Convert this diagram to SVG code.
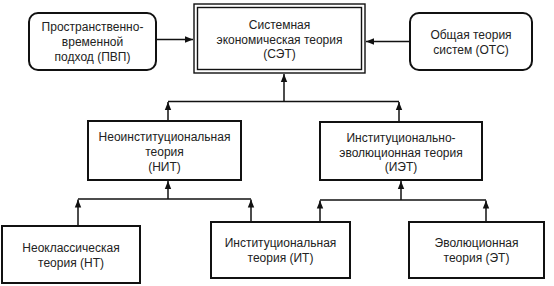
<svg xmlns="http://www.w3.org/2000/svg" width="554" height="286" viewBox="0 0 554 286">
<defs>
<marker id="ah" viewBox="0 0 8 8" refX="8" refY="4" markerWidth="8" markerHeight="8" markerUnits="userSpaceOnUse" orient="auto">
<path d="M0,0.8 L8,4 L0,7.2 Z" fill="#111"/>
</marker>
</defs>
<style>
.box{fill:#fff;stroke:#111;stroke-width:2}
.thin{fill:none;stroke:#111;stroke-width:1.4}
.ln{fill:none;stroke:#111;stroke-width:1.5}
.arr{fill:none;stroke:#111;stroke-width:1.5;marker-end:url(#ah)}
text{font-family:"Liberation Sans",Arial,sans-serif;font-size:12px;fill:#222;text-anchor:middle}
</style>
<rect width="554" height="286" fill="#fff"/>
<g id="connectors">
<line class="arr" x1="156" y1="39.5" x2="193" y2="39.5"/>
<line class="arr" x1="410" y1="41.5" x2="366" y2="41.5"/>
<line class="arr" x1="284" y1="101.5" x2="284" y2="74"/>
<polyline class="ln" points="168,101.5 399,101.5"/>
<line class="arr" x1="168" y1="120" x2="168" y2="102"/>
<line class="arr" x1="399" y1="122" x2="399" y2="102"/>
<line class="arr" x1="168" y1="199" x2="168" y2="181"/>
<polyline class="ln" points="78,199 251,199"/>
<line class="arr" x1="78" y1="226" x2="78" y2="199.5"/>
<line class="arr" x1="251" y1="222" x2="251" y2="199.5"/>
<line class="arr" x1="401" y1="200" x2="401" y2="181"/>
<polyline class="ln" points="320,200 486,200"/>
<line class="arr" x1="320" y1="222" x2="320" y2="200.5"/>
<line class="arr" x1="486" y1="222" x2="486" y2="200.5"/>
</g>
<g id="pvp">
<rect class="box" x="29" y="13" width="127" height="57" rx="9"/>
<text x="92.5" y="31">Пространственно-</text>
<text x="92.5" y="46">временной</text>
<text x="92.5" y="61">подход (ПВП)</text>
</g>
<g id="set">
<rect class="thin" x="194" y="4" width="171" height="69"/>
<rect class="thin" x="197.5" y="7.5" width="164" height="62"/>
<text x="279.5" y="29">Системная</text>
<text x="279.5" y="44">экономическая теория</text>
<text x="279.5" y="58">(СЭТ)</text>
</g>
<g id="ots">
<rect class="box" x="410" y="13" width="122" height="57" rx="9"/>
<text x="471" y="39">Общая теория</text>
<text x="471" y="54">систем (ОТС)</text>
</g>
<g id="nit">
<rect class="box" x="88" y="121" width="153" height="59"/>
<text x="164.5" y="141">Неоинституциональная</text>
<text x="164.5" y="156">теория</text>
<text x="164.5" y="171">(НИТ)</text>
</g>
<g id="iet">
<rect class="box" x="320" y="122" width="162" height="58"/>
<text x="401" y="142">Институционально-</text>
<text x="401" y="156.5">эволюционная теория</text>
<text x="401" y="171">(ИЭТ)</text>
</g>
<g id="nt">
<rect class="box" x="2" y="226" width="138" height="57"/>
<text x="71" y="251.5">Неоклассическая</text>
<text x="71" y="266.5">теория (НТ)</text>
</g>
<g id="it">
<rect class="box" x="211" y="222" width="139" height="56"/>
<text x="280.5" y="247">Институциональная</text>
<text x="280.5" y="262">теория (ИТ)</text>
</g>
<g id="et">
<rect class="box" x="409" y="222" width="135" height="56"/>
<text x="476.5" y="247">Эволюционная</text>
<text x="476.5" y="262">теория (ЭТ)</text>
</g>
</svg>
